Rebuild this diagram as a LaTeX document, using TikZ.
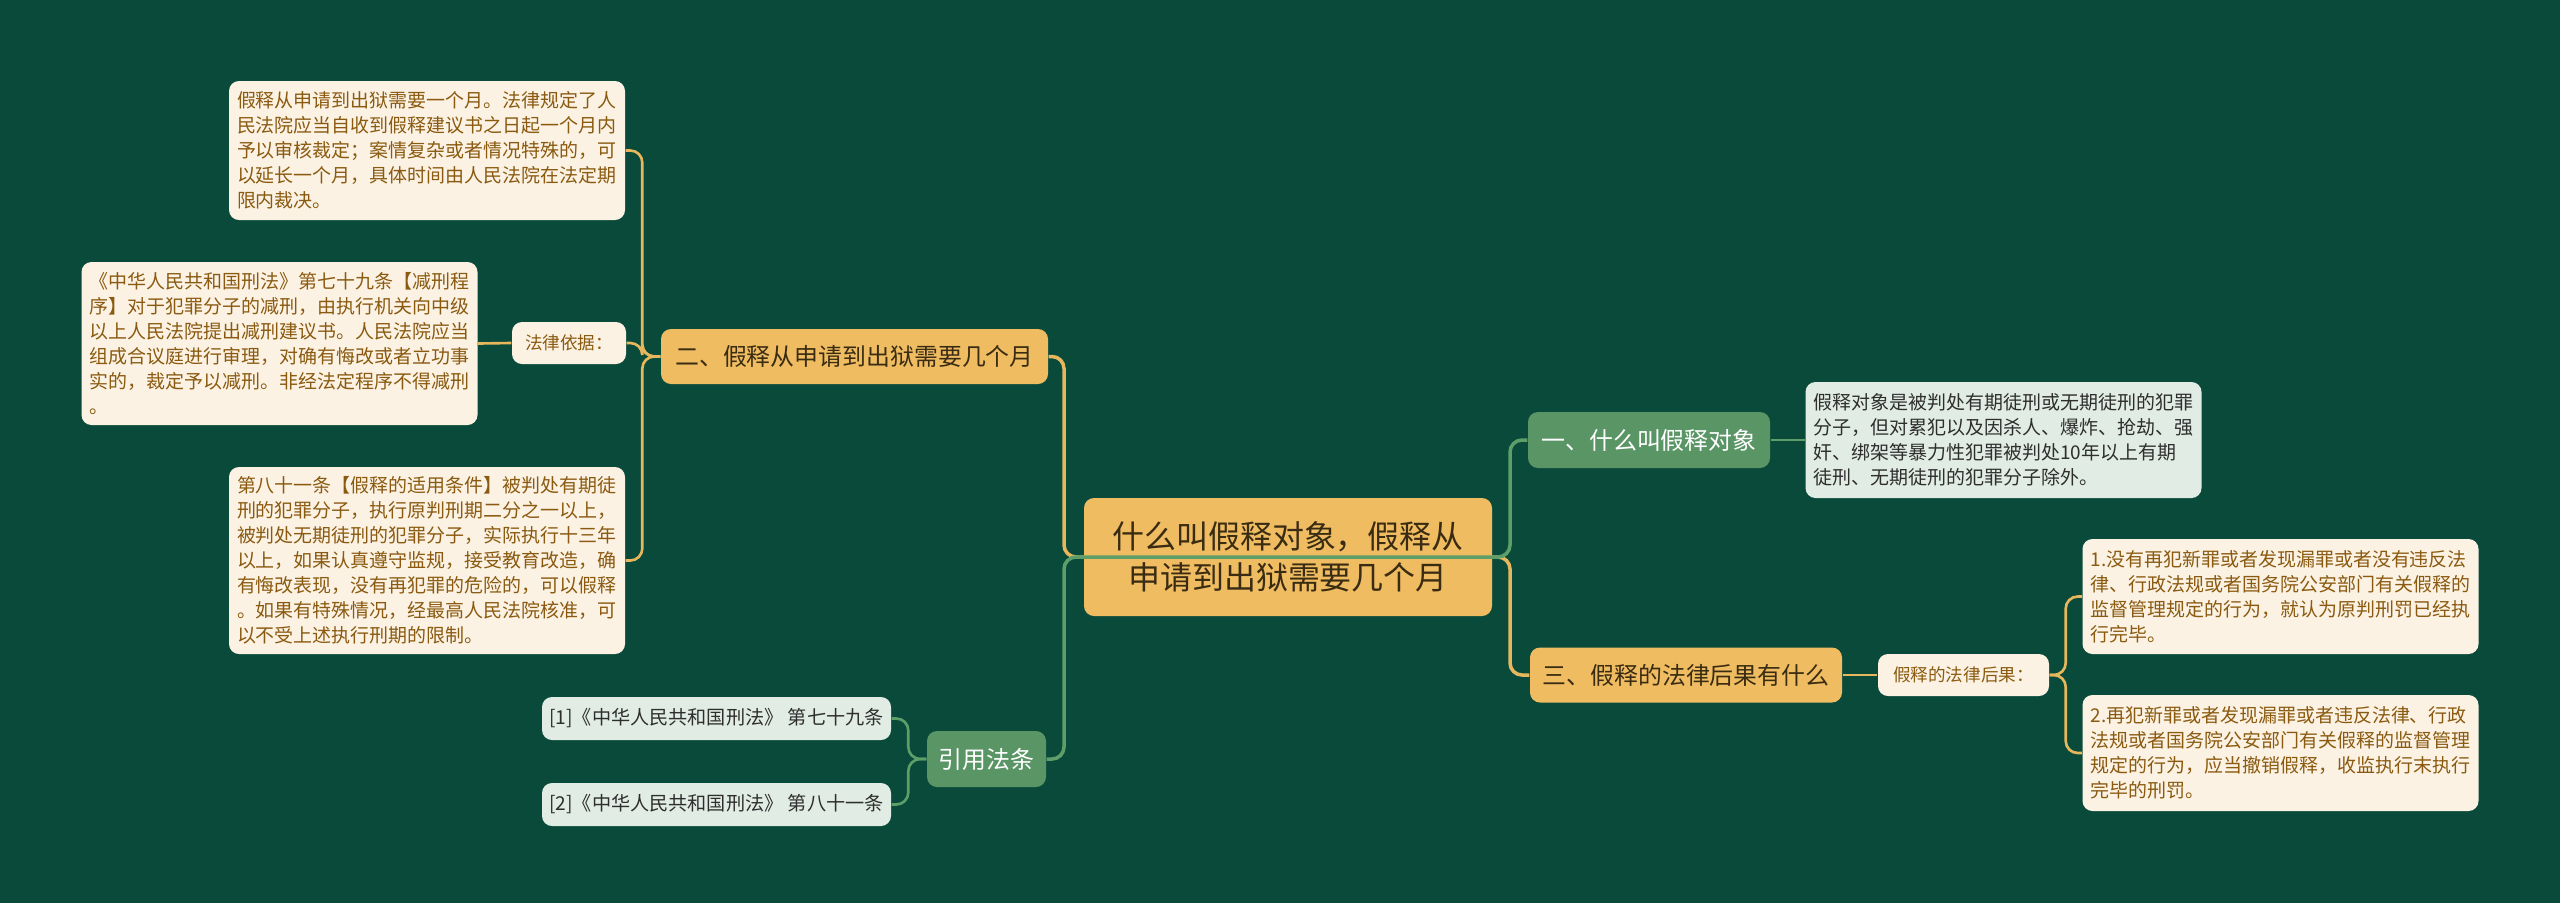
\documentclass[tikz,border=0pt]{standalone}
\usepackage{fontspec}
\setmainfont{Noto Sans CJK SC}
\definecolor{bgcol}{HTML}{094A3A}
\definecolor{goldfill}{HTML}{EFBC62}
\definecolor{goldline}{HTML}{E6B75C}
\definecolor{greenfill}{HTML}{5A9566}
\definecolor{greenline}{HTML}{5E9E69}
\definecolor{creamfill}{HTML}{FCF2E3}
\definecolor{palegreen}{HTML}{E1ECE4}
\definecolor{browntext}{HTML}{8A5A10}
\definecolor{darktext}{HTML}{3A2C12}
\definecolor{greytext}{HTML}{2E2E2E}
\tikzset{
  box/.style={rounded corners=0.1cm, inner sep=0pt, align=center},
  topicbox/.style={box, fill=goldfill, text=darktext, minimum width=4.08cm, minimum height=1.18cm,
    font=\fontsize{9.1pt}{11.7pt}\selectfont},
  goldbranch/.style={box, fill=goldfill, text=darktext, minimum height=0.55cm,
    font=\fontsize{6.8pt}{8pt}\selectfont},
  greenbranch/.style={box, fill=greenfill, text=white, minimum height=0.56cm,
    font=\fontsize{6.8pt}{8pt}\selectfont},
  notebox/.style={box, fill=creamfill, text=browntext, align=left, inner xsep=0.08cm,
    text width=3.80cm, font=\fontsize{5.4pt}{7.11pt}\selectfont},
  greennote/.style={notebox, fill=palegreen, text=greytext},
  tagbox/.style={box, fill=creamfill, text=browntext, minimum height=0.42cm,
    font=\fontsize{5pt}{6pt}\selectfont},
  citebox/.style={box, fill=palegreen, text=greytext, minimum width=3.49cm, minimum height=0.43cm,
    font=\fontsize{5.45pt}{6.5pt}\selectfont},
  goldlink/.style={draw=goldline, line width=1pt, rounded corners=0.12cm},
  greenlink/.style={draw=greenline, line width=1pt, rounded corners=0.12cm},
  goldtwig/.style={goldlink, line width=0.75pt},
  greentwig/.style={greenlink, line width=0.75pt}
}

\begin{document}
\begin{tikzpicture}
\useasboundingbox (0,0) rectangle (25.600,-9.030);
\fill[bgcol] (0,0) rectangle (25.600,-9.030);

\node[topicbox] (topic) at (12.880,-5.570) {什么叫假释对象，假释从\\申请到出狱需要几个月};

\node[goldbranch, minimum width=3.87cm] (sub2) at (8.545,-3.565) {二、假释从申请到出狱需要几个月};
\node[greenbranch, minimum width=1.19cm] (cite) at (9.865,-7.590) {引用法条};
\node[greenbranch, minimum width=2.42cm] (sub1) at (16.490,-4.400) {一、什么叫假释对象};
\node[goldbranch, minimum width=3.12cm] (sub3) at (16.860,-6.750) {三、假释的法律后果有什么};

\node[tagbox, minimum width=1.14cm] (basis) at (5.690,-3.430) {法律依据：};
\node[tagbox, minimum width=1.71cm] (effect) at (19.635,-6.750) {假释的法律后果：};

\node[notebox, minimum height=1.39cm] (lawa) at (4.270,-1.505) {假释从申请到出狱需要一个月。法律规定了人\\民法院应当自收到假释建议书之日起一个月内\\予以审核裁定；案情复杂或者情况特殊的，可\\以延长一个月，具体时间由人民法院在法定期\\限内裁决。};
\node[notebox, minimum height=1.63cm] (lawb) at (2.795,-3.435) {《中华人民共和国刑法》第七十九条【减刑程\\序】对于犯罪分子的减刑，由执行机关向中级\\以上人民法院提出减刑建议书。人民法院应当\\组成合议庭进行审理，对确有悔改或者立功事\\实的，裁定予以减刑。非经法定程序不得减刑\\。};
\node[notebox, minimum height=1.87cm] (lawc) at (4.270,-5.605) {第八十一条【假释的适用条件】被判处有期徒\\刑的犯罪分子，执行原判刑期二分之一以上，\\被判处无期徒刑的犯罪分子，实际执行十三年\\以上，如果认真遵守监规，接受教育改造，确\\有悔改表现，没有再犯罪的危险的，可以假释\\。如果有特殊情况，经最高人民法院核准，可\\以不受上述执行刑期的限制。};

\node[greennote, minimum height=1.16cm] (objd) at (20.035,-4.400) {假释对象是被判处有期徒刑或无期徒刑的犯罪\\分子，但对累犯以及因杀人、爆炸、抢劫、强\\奸、绑架等暴力性犯罪被判处10年以上有期\\徒刑、无期徒刑的犯罪分子除外。};

\node[notebox, minimum height=1.15cm] (resa) at (22.805,-5.965) {1.没有再犯新罪或者发现漏罪或者没有违反法\\律、行政法规或者国务院公安部门有关假释的\\监督管理规定的行为，就认为原判刑罚已经执\\行完毕。};
\node[notebox, minimum height=1.16cm] (resb) at (22.805,-7.530) {2.再犯新罪或者发现漏罪或者违反法律、行政\\法规或者国务院公安部门有关假释的监督管理\\规定的行为，应当撤销假释，收监执行末执行\\完毕的刑罚。};

\node[citebox] (cita) at (7.165,-7.185) {[1]《中华人民共和国刑法》 第七十九条};
\node[citebox] (citb) at (7.165,-8.045) {[2]《中华人民共和国刑法》 第八十一条};

\coordinate (lhub) at (10.640,-5.570);
\coordinate (rhub) at (15.100,-5.570);
\draw[goldlink] (topic.center) -- (lhub) |- (sub2.east);
\draw[goldlink] (topic.center) -- (rhub) |- (sub3.west);
\draw[greenlink] (topic.center) -- (lhub) |- (cite.east);
\draw[greenlink] (topic.center) -- (rhub) |- (sub1.west);

\draw[goldtwig] (sub2.west) -- ++(-0.180,0) |- (lawa.east);
\draw[goldtwig] (sub2.west) -- ++(-0.180,0) |- (basis.east);
\draw[goldtwig] (sub2.west) -- ++(-0.180,0) |- (lawc.east);
\draw[goldtwig] (basis.west) -- (lawb.east);
\draw[greentwig] (sub1.east) -- (objd.west);
\draw[goldtwig] (sub3.east) -- (effect.west);
\draw[goldtwig] (effect.east) -- ++(0.160,0) |- (resa.west);
\draw[goldtwig] (effect.east) -- ++(0.160,0) |- (resb.west);
\draw[greentwig] (cite.west) -- ++(-0.180,0) |- (cita.east);
\draw[greentwig] (cite.west) -- ++(-0.180,0) |- (citb.east);
\end{tikzpicture}
\end{document}
